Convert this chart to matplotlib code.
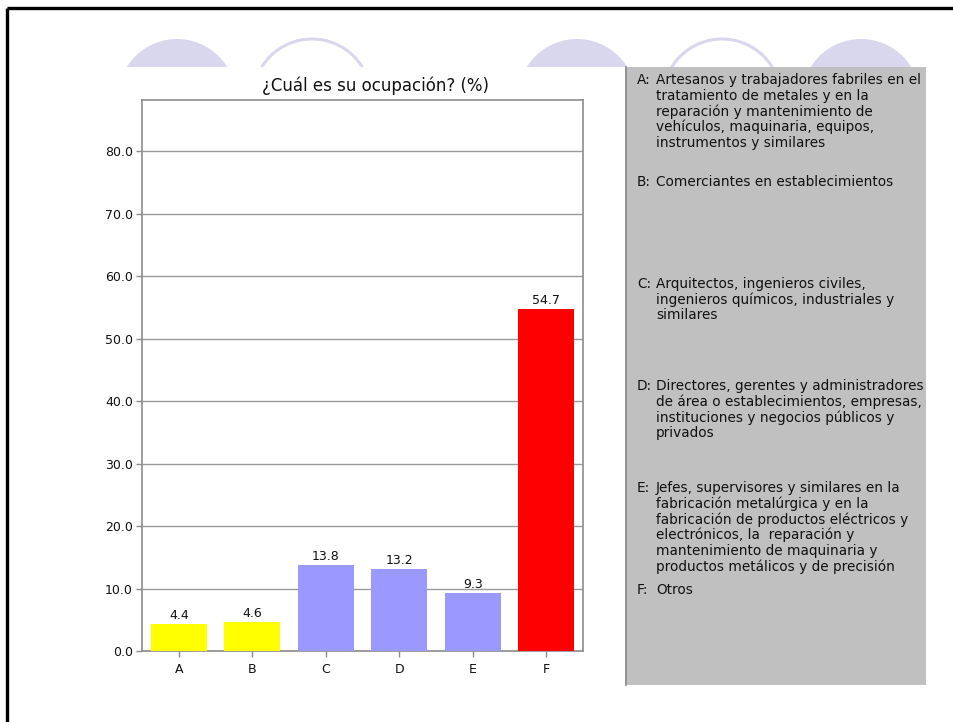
import matplotlib
matplotlib.use("Agg")
import matplotlib.pyplot as plt
from matplotlib.patches import Circle, Rectangle

plt.rcParams['font.family'] = ['DejaVu Sans']

# ---- data ----
categories = ["A", "B", "C", "D", "E", "F"]
values = [4.4, 4.6, 13.8, 13.2, 9.3, 54.7]
bar_colors = ["#FFFF00", "#FFFF00", "#9999FF", "#9999FF", "#9999FF", "#FF0000"]
yticks = [0, 10, 20, 30, 40, 50, 60, 70, 80]
title = "¿Cuál es su ocupación? (%)"
legend_keys = ["A:", "B:", "C:", "D:", "E:", "F:"]
legend_lines = [
    ["Artesanos y trabajadores fabriles en el", "tratamiento de metales y en la",
     "reparación y mantenimiento de", "vehículos, maquinaria, equipos,",
     "instrumentos y similares"],
    ["Comerciantes en establecimientos"],
    ["Arquitectos, ingenieros civiles,", "ingenieros químicos, industriales y",
     "similares"],
    ["Directores, gerentes y administradores", "de área o establecimientos, empresas,",
     "instituciones y negocios públicos y", "privados"],
    ["Jefes, supervisores y similares en la", "fabricación metalúrgica y en la",
     "fabricación de productos eléctricos y", "electrónicos, la  reparación y",
     "mantenimiento de maquinaria y", "productos metálicos y de precisión"],
    ["Otros"],
]

W, H = 954, 722
fig = plt.figure(figsize=(W / 100, H / 100), dpi=100)

# background axes in pixel coordinates
bg = fig.add_axes([0, 0, 1, 1], zorder=0)
bg.set_xlim(0, W)
bg.set_ylim(H, 0)
bg.axis("off")

lav = "#D9D7EE"
# decorative circles (filled / ring)
bg.add_patch(Circle((177, 98), 59, facecolor=lav, edgecolor="none", zorder=1))
bg.add_patch(Circle((312, 98), 59, facecolor="none", edgecolor=lav, lw=2.2, zorder=1))
bg.add_patch(Circle((577, 98), 59, facecolor=lav, edgecolor="none", zorder=1))
bg.add_patch(Circle((722, 98), 59, facecolor="none", edgecolor=lav, lw=2.2, zorder=1))
bg.add_patch(Circle((861, 98), 59, facecolor=lav, edgecolor="none", zorder=1))
# white area below the circles
bg.add_patch(Rectangle((9, 67), W, H, facecolor="white", edgecolor="none", zorder=2))
# legend panel
bg.add_patch(Rectangle((625, 67), 301, 618, facecolor="#C0C0C0", edgecolor="none", zorder=3))
bg.plot([626, 626], [67, 685], color="#8a8a8a", lw=1.2, zorder=4)
# black frame
bg.plot([7, W], [8, 8], color="black", lw=2.4, zorder=5, solid_capstyle="butt")
bg.plot([7, 7], [8, H], color="black", lw=2.4, zorder=5, solid_capstyle="butt")

# legend text
slot_y = [80, 182, 284, 386, 488, 590]
lh = 15.7
for key, lines, y0 in zip(legend_keys, legend_lines, slot_y):
    bg.text(637, y0, key, fontsize=9.8, va="center", ha="left", color="#111111", zorder=6)
    for i, ln in enumerate(lines):
        bg.text(656, y0 + i * lh, ln, fontsize=9.8, va="center", ha="left",
                color="#111111", zorder=6)

# title
bg.text(376, 86, title, fontsize=12, ha="center", va="center", color="#111111", zorder=6)

# bar chart axes
l, r, b, t = 142, 583, 651, 100
ax = fig.add_axes([l / W, 1 - b / H, (r - l) / W, (b - t) / H], zorder=1)
ax.set_facecolor("white")
x = list(range(len(categories)))
bars = ax.bar(x, values, width=0.76, color=bar_colors, edgecolor="none", zorder=3)
for xi, v in zip(x, values):
    ax.text(xi, v + 0.3, f"{v:.1f}", ha="center", va="bottom", fontsize=9, color="#111111", zorder=4)
ax.set_xlim(-0.5, len(categories) - 0.5)
ax.set_ylim(0, 88.2)
ax.set_yticks(yticks)
ax.set_yticklabels([f"{v:.1f}" for v in yticks])
ax.set_xticks(x)
ax.set_xticklabels(categories)
ax.yaxis.grid(True, color="#9a9a9a", lw=1.0, zorder=1)
ax.set_axisbelow(True)
for s in ax.spines.values():
    s.set_color("#8c8c8c")
    s.set_linewidth(1.2)
ax.tick_params(axis="both", colors="#8c8c8c", labelcolor="#111111", labelsize=9,
               length=4.5, width=1)
ax.tick_params(axis="y", pad=2)
ax.tick_params(axis="x", pad=4)

fig.savefig("out.png", dpi=100)
